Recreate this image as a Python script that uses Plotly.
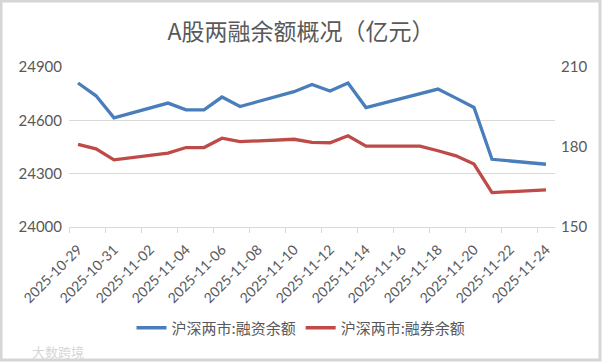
import plotly.graph_objects as go

# ---- data ----
dates = ["2025-10-29", "2025-10-30", "2025-10-31", "2025-11-03", "2025-11-04",
         "2025-11-05", "2025-11-06", "2025-11-07", "2025-11-10", "2025-11-11",
         "2025-11-12", "2025-11-13", "2025-11-14", "2025-11-17", "2025-11-18",
         "2025-11-19", "2025-11-20", "2025-11-21", "2025-11-24"]
financing = [24810, 24738, 24614, 24697, 24659, 24659, 24731, 24678, 24761, 24802,
             24765, 24810, 24672, 24752, 24776, 24725, 24672, 24381, 24353]
securities_lending = [181.0, 179.3, 175.2, 177.7, 179.8, 179.8, 183.3, 182.0, 182.9, 181.7,
                      181.6, 184.2, 180.3, 180.3, 178.6, 176.7, 173.6, 162.9, 163.9]
series_names = ["沪深两市:融资余额", "沪深两市:融券余额"]
title_text = "A股两融余额概况（亿元）"
watermark_text = "大数跨境"
left_ticks = [24000, 24300, 24600, 24900]
right_ticks = [150, 180, 210]
x_start, x_end = "2025-10-29", "2025-11-25"

DAY = 86400000
W, H = 602, 362
ML, MR, MT, MB = 69, 47, 67, 135
GRAY = "#595959"
GRID = "#d9d9d9"
FONT = "Lato, 'Noto Sans CJK SC', sans-serif"
CJK = "'Noto Sans CJK SC', sans-serif"

pw = W - ML - MR
ph = H - MT - MB


def px(xpix):
    return (xpix - ML) / pw


def py(ypix):
    return (H - MB - ypix) / ph


fig = go.Figure()
fig.add_trace(go.Scatter(
    x=dates, y=financing, name=series_names[0], mode="lines",
    xperiod=DAY, xperiodalignment="middle",
    line=dict(color="#4a7ebb", width=3.3), yaxis="y"))
fig.add_trace(go.Scatter(
    x=dates, y=securities_lending, name=series_names[1], mode="lines",
    xperiod=DAY, xperiodalignment="middle",
    line=dict(color="#be4b48", width=3.3), yaxis="y2"))

fig.update_layout(
    width=W, height=H,
    margin=dict(l=ML, r=MR, t=MT, b=MB, autoexpand=False),
    paper_bgcolor="white", plot_bgcolor="white",
    font=dict(family=FONT, color=GRAY),
    title=dict(text=title_text, x=0.5, xanchor="center", y=1 - 32 / H, yanchor="middle",
               font=dict(size=23, color=GRAY, family=CJK)),
    showlegend=True,
    legend=dict(orientation="h", xref="container", yref="container",
                x=0.5, xanchor="center", y=1 - 328 / H, yanchor="middle",
                font=dict(size=15, color=GRAY, family=CJK),
                bgcolor="rgba(0,0,0,0)"),
    xaxis=dict(
        type="date", range=[x_start, x_end], automargin=False,
        tickmode="linear", tick0="2025-10-29 12:00", dtick=2 * DAY,
        tickformat="%Y-%m-%d", tickangle=-45, ticks="",
        ticklabelstandoff=8,
        tickfont=dict(size=14, color=GRAY),
        showgrid=False, showline=True, linecolor=GRID, linewidth=1,
        minor=dict(ticks="outside", tick0=x_start, dtick=2 * DAY, ticklen=5,
                   tickcolor=GRID, showgrid=False),
        zeroline=False, fixedrange=True),
    yaxis=dict(
        range=[left_ticks[0], left_ticks[-1]], tickvals=left_ticks, tickformat="d",
        automargin=False,
        showgrid=True, gridcolor=GRID, gridwidth=1, zeroline=False,
        showline=False, ticks="", ticklabelstandoff=6,
        tickfont=dict(size=15, color=GRAY)),
    yaxis2=dict(
        range=[right_ticks[0], right_ticks[-1]], tickvals=right_ticks, tickformat="d",
        automargin=False,
        overlaying="y", side="right", showgrid=False, zeroline=False,
        showline=False, ticks="", ticklabelstandoff=5,
        tickfont=dict(size=15, color=GRAY)),
)

# outer frame of the chart area
fig.add_shape(type="rect", xref="paper", yref="paper",
              x0=px(1), x1=px(W - 2), y0=py(H - 2), y1=py(1),
              line=dict(color="#d6d6d6", width=3), fillcolor="rgba(0,0,0,0)", layer="above")

# watermark
fig.add_annotation(text=watermark_text, xref="paper", yref="paper",
                   x=px(30), xanchor="left", y=py(351), yanchor="middle", showarrow=False,
                   font=dict(size=13, color="#d6d6d6", family=CJK))

fig.write_html("out.html", config={"displayModeBar": False},
               post_script="document.body.style.margin='0';")
